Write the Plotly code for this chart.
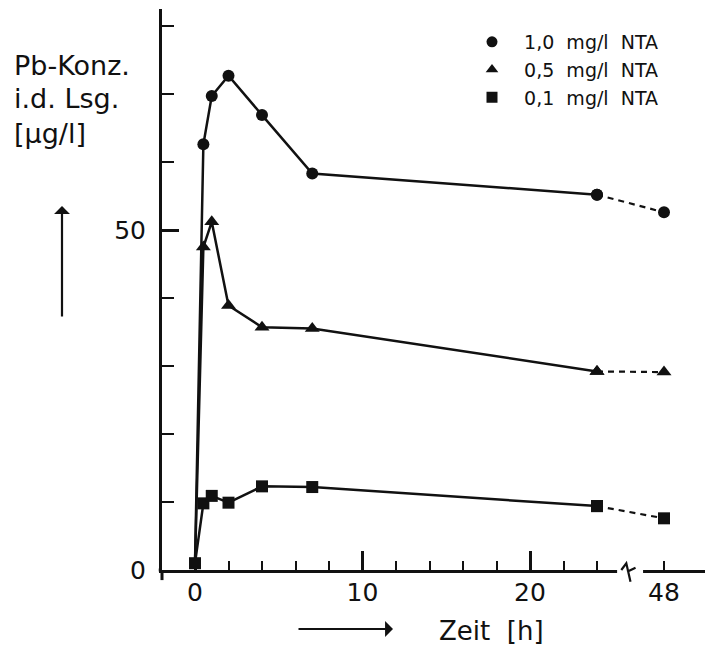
import plotly.graph_objects as go

# ---- data ----
times = [0, 0.5, 1, 2, 4, 7, 24, 48]
nta_10 = [1.0, 62.6, 69.7, 72.7, 66.9, 58.3, 55.2, 52.6]
nta_05 = [1.0, 47.5, 51.2, 38.9, 35.7, 35.5, 29.2, 29.1]
nta_01 = [1.0, 9.8, 10.9, 9.9, 12.3, 12.2, 9.4, 7.6]
series_names = ["  1,0  mg/l  NTA", "  0,5  mg/l  NTA", "  0,1  mg/l  NTA"]
x_tick_times = [0, 10, 20, 48]
x_major = [0, 10, 20]
x_minor = [2, 4, 6, 8, 12, 14, 16, 18, 22, 24]
y_tick_vals = [0, 50]
y_tick_text = ["0", "50"]
y_minor = [10, 20, 30, 40, 60, 70, 80]


def pos(t):
    # broken time axis: 48 h is drawn at position 28
    return t if t <= 24 else 28


xpos = [pos(t) for t in times]
FONT = "DejaVu Sans, Liberation Sans, sans-serif"
BLACK = "#111111"

fig = go.Figure()
symbols = ["circle", "triangle-up", "square"]
sizes = [12, 13, 12]
datas = [nta_10, nta_05, nta_01]

for name, sym, sz, vals in zip(series_names, symbols, sizes, datas):
    n_solid = sum(1 for t in times if t <= 24)
    msizes = [sz] * n_solid
    if sym != "square":
        msizes[0] = 0
    fig.add_trace(go.Scatter(
        x=xpos[:n_solid], y=vals[:n_solid], mode="lines+markers",
        line=dict(color=BLACK, width=2.5),
        marker=dict(symbol=sym, size=msizes, color=BLACK, opacity=1,
                    line=dict(width=0)),
        showlegend=False, cliponaxis=False))
    fig.add_trace(go.Scatter(
        x=xpos[n_solid - 1:], y=vals[n_solid - 1:], mode="lines+markers",
        line=dict(color=BLACK, width=2.2, dash="6px,5px"),
        marker=dict(symbol=sym, size=sz, color=BLACK, opacity=1,
                    line=dict(width=0)),
        showlegend=False, cliponaxis=False))

for i, (name, sym) in enumerate(zip(series_names, symbols)):
    fig.add_trace(go.Scatter(
        x=[None], y=[None], mode="markers", name=name,
        marker=dict(symbol=sym, size=11, color=BLACK),
        legendgroup=f"g{i}"))

fig.add_trace(go.Scatter(x=[None], y=[None], xaxis="x2", showlegend=False))

# plot area: left 162, right 705, top 9, bottom 570
W, H = 707, 653
L, R, T, B = 162, 705, 9, 570
PW, PH = R - L, B - T
x_range = [(L - 195) / 16.75, (R - 195) / 16.75]
y_range = [0, (B - T) / 6.8]


def px(x):
    return (x - L) / PW


def py(y):
    return (B - y) / PH


tickfont = dict(family=FONT, size=25, color=BLACK)

fig.update_layout(
    width=W, height=H,
    margin=dict(l=L, r=W - R, t=T, b=H - B, pad=0),
    paper_bgcolor="white", plot_bgcolor="white",
    xaxis=dict(range=x_range, showgrid=False, zeroline=False,
               showline=True, linewidth=3, linecolor=BLACK,
               ticks="inside", tickvals=x_major, showticklabels=False,
               ticklen=19, tickwidth=2.5, tickcolor=BLACK,
               minor=dict(tickmode="array", tickvals=x_minor, ticks="inside",
                          ticklen=9, tickwidth=2.2, tickcolor=BLACK)),
    xaxis2=dict(range=x_range, overlaying="x", anchor="y", side="bottom",
                showgrid=False, zeroline=False, showline=False,
                ticks="inside", tickvals=[pos(t) for t in x_tick_times],
                ticktext=[str(t) for t in x_tick_times],
                ticklen=9, tickwidth=2.2, tickcolor=BLACK,
                tickfont=tickfont, ticklabelstandoff=5),
    yaxis=dict(range=y_range, showgrid=False, zeroline=False,
               showline=True, linewidth=3, linecolor=BLACK,
               ticks="inside", tickvals=y_tick_vals, ticktext=y_tick_text,
               ticklen=17, tickwidth=2.5, tickcolor=BLACK,
               tickfont=tickfont, ticklabelstandoff=8,
               minor=dict(tickmode="array", tickvals=y_minor, ticks="inside",
                          ticklen=12, tickwidth=2.2, tickcolor=BLACK)),
    legend=dict(x=px(472), y=py(23), xanchor="left", yanchor="top",
                font=dict(family=FONT, size=19, color=BLACK),
                bgcolor="rgba(0,0,0,0)", borderwidth=0,
                tracegroupgap=0, traceorder="grouped"),
    showlegend=True,
)

# y-label lines
for txt, yc in [("Pb-Konz.", 65), ("i.d. Lsg.", 99), ("[µg/l]", 133)]:
    fig.add_annotation(text=txt, xref="paper", yref="paper", x=px(12), y=py(yc),
                       xanchor="left", yanchor="middle", showarrow=False,
                       font=dict(family=FONT, size=27, color=BLACK))

# vertical arrow
fig.add_annotation(xref="paper", yref="paper", x=px(62), y=py(206), ax=0, ay=112,
                   text="", showarrow=True, arrowhead=1, arrowsize=1.2,
                   arrowwidth=2.2, arrowcolor=BLACK)
# horizontal arrow
fig.add_annotation(xref="paper", yref="paper", x=px(393), y=py(629), ax=-96, ay=0,
                   text="", showarrow=True, arrowhead=1, arrowsize=1.2,
                   arrowwidth=2.2, arrowcolor=BLACK)
fig.add_annotation(text="Zeit  [h]", xref="paper", yref="paper", x=px(491), y=py(631),
                   xanchor="center", yanchor="middle", showarrow=False,
                   font=dict(family=FONT, size=26, color=BLACK))

# axis decorations: break, y-axis extension
fig.add_shape(type="rect", xref="x", yref="paper", x0=25.2, x1=26.75,
              y0=-0.012, y1=0.012, fillcolor="white", line=dict(width=0), layer="above")
fig.add_shape(type="path", xref="x", yref="paper",
              path="M 25.45,0.0 L 25.75,0.012 L 26.0,-0.021 M 25.8,-0.003 L 26.3,0.004",
              line=dict(color=BLACK, width=2.2), layer="above")
fig.add_shape(type="line", xref="paper", yref="paper", x0=0, x1=0, y0=0, y1=-0.018,
              line=dict(color=BLACK, width=3))
fig.add_shape(type="line", xref="paper", yref="paper", x0=-0.006, x1=0, y0=0, y1=0,
              line=dict(color=BLACK, width=3))

fig.write_html("out.html")
